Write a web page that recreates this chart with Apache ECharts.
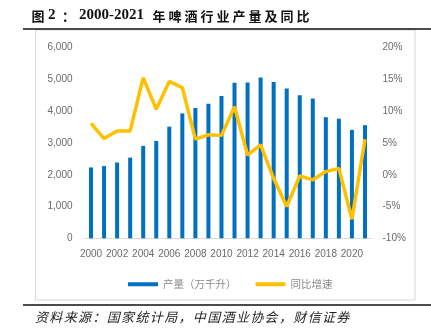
<!DOCTYPE html>
<html>
<head>
<meta charset="utf-8">
<script src="https://cdn.jsdelivr.net/npm/echarts@6/dist/echarts.min.js"></script>
<style>
html,body{margin:0;padding:0;background:#fff;}
#c{width:431px;height:336px;}
</style>
</head>
<body>
<div id="c"></div>
<script>
var years = ['2000','2001','2002','2003','2004','2005','2006','2007','2008','2009','2010','2011','2012','2013','2014','2015','2016','2017','2018','2019','2020','2021'];
var output = [2231,2274,2386,2540,2910,3062,3515,3931,4103,4236,4483,4899,4902,5062,4922,4716,4506,4402,3812,3765,3411,3562];
var growth = [8.1,5.7,6.9,6.9,15.3,10.3,14.7,13.7,5.6,6.3,6.2,10.7,3.1,4.7,-0.6,-5.0,-0.2,-0.8,0.5,1.0,-7.0,5.6];
var leftTicks = [0,1000,2000,3000,4000,5000,6000];
var rightTicks = [-10,-5,0,5,10,15,20];
var seriesNames = ['产量（万千升）','同比增速'];
var titleParts = ['图','2','：','2000-2021','年啤酒行业产量及同比'];
var sourceText = '资料来源：国家统计局，中国酒业协会，财信证券';

var chart = echarts.init(document.getElementById('c'), null, {renderer:'canvas'});
var labelFont = {color:'#6b6b6b', fontSize:10, fontFamily:'Liberation Sans, Arial, sans-serif'};

var graphics = [
  {type:'rect', shape:{x:35.5, y:30, width:379.5, height:270}, style:{fill:'none', stroke:'#d9d9d9', lineWidth:1}, z:-1},
  {type:'line', shape:{x1:23, y1:29, x2:431, y2:29}, style:{stroke:'#111', lineWidth:1.5}},
  {type:'line', shape:{x1:23, y1:305, x2:431, y2:305}, style:{stroke:'#111', lineWidth:1.5}}
];
var tFont = 'bold 13px "Noto Sans CJK SC"';
var nFont = 'bold 15px "Liberation Serif"';
graphics.push({type:'text', x:31.5, y:9.5, style:{text:titleParts[0], font:tFont, fill:'#111'}});
graphics.push({type:'text', x:48, y:8, style:{text:titleParts[1], font:nFont, fill:'#111'}});
graphics.push({type:'text', x:62, y:9.5, style:{text:titleParts[2], font:tFont, fill:'#111'}});
graphics.push({type:'text', x:79, y:8, style:{text:titleParts[3], font:nFont, fill:'#111'}});
for (var i=0;i<titleParts[4].length;i++){
  graphics.push({type:'text', x:152.5+i*16, y:9.5, style:{text:titleParts[4][i], font:tFont, fill:'#111'}});
}
for (var j=0;j<sourceText.length;j++){
  graphics.push({type:'text', x:35+j*14.35, y:311, style:{text:sourceText[j], font:'italic 13px "Noto Sans CJK SC"', fill:'#222'}});
}

chart.setOption({
  animation:false,
  backgroundColor:'#fff',
  grid:{left:84.5, right:59.5, top:47.7, bottom:97.7},
  legend:{
    left:123, top:274, itemWidth:30, itemHeight:4, itemGap:19,
    textStyle:{color:'#8a8a8a', fontSize:10.5, fontFamily:'Noto Sans CJK SC'},
    data:[{name:seriesNames[0], icon:'rect'},{name:seriesNames[1], icon:'roundRect'}]
  },
  xAxis:{
    type:'category', data:years,
    axisLine:{lineStyle:{color:'#d9d9d9', width:1}},
    axisTick:{show:false},
    axisLabel:Object.assign({interval:1, margin:11}, labelFont)
  },
  yAxis:[{
    type:'value', min:leftTicks[0], max:leftTicks[leftTicks.length-1], interval:1000,
    splitLine:{show:false}, axisLine:{show:false}, axisTick:{show:false},
    axisLabel:Object.assign({margin:12, formatter:function(v){return v.toLocaleString('en-US');}}, labelFont)
  },{
    type:'value', min:rightTicks[0], max:rightTicks[rightTicks.length-1], interval:5,
    splitLine:{show:false}, axisLine:{show:false}, axisTick:{show:false},
    axisLabel:Object.assign({margin:11, formatter:function(v){return v+'%';}}, labelFont)
  }],
  series:[{
    name:seriesNames[0], type:'bar', data:output, barWidth:4,
    itemStyle:{color:'#0070C0'}
  },{
    name:seriesNames[1], type:'line', yAxisIndex:1, data:growth,
    symbol:'none', lineStyle:{color:'#FFC000', width:3.5}, itemStyle:{color:'#FFC000'},
    z:3
  }],
  graphic:graphics
});
</script>
</body>
</html>
